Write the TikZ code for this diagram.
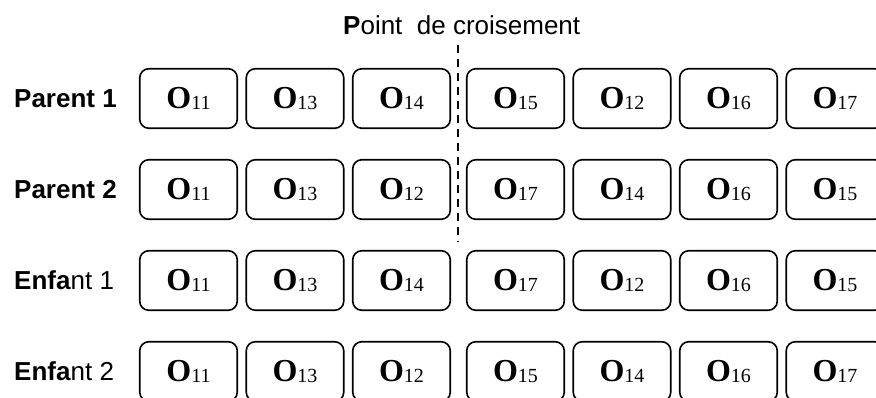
\documentclass[tikz,border=0pt]{standalone}
\usepackage{fontspec}
\setmainfont{Liberation Serif}
\setsansfont{Liberation Sans}
\usetikzlibrary{positioning}

\tikzset{
  gene/.style={draw, line width=1.6pt, rounded corners=9pt, minimum width=97.5pt,
    minimum height=59.5pt, inner sep=0pt, font=\fontsize{32}{32}\selectfont},
  rowlabel/.style={anchor=west, inner sep=0pt, font=\sffamily\fontsize{26}{26}\selectfont},
  cutline/.style={line width=1.6pt, dash pattern=on 8pt off 6pt}
}
\newcommand{\gn}[1]{\raisebox{-2.5pt}{\textbf{O}{\fontsize{20}{20}\selectfont\raisebox{-1pt}{#1}}}}

\begin{document}
\begin{tikzpicture}[x=1pt, y=1pt]
  \useasboundingbox (0,0) rectangle (876,-397);

  \node[anchor=base west, inner sep=0pt, font=\sffamily\fontsize{26}{26}\selectfont]
    (title) at (343,-34) {\textbf{P}oint~ de croisement};

  % one row per chromosome
  \foreach \row/\lab/\y/\genes in {
      p1/{\textbf{Parent 1}}/-98.5/{11,13,14,15,12,16,17},
      p2/{\textbf{Parent 2}}/-189.5/{11,13,12,17,14,16,15},
      e1/{\textbf{Enfa}nt 1}/-280.5/{11,13,14,17,12,16,15},
      e2/{\textbf{Enfa}nt 2}/-371.5/{11,13,12,15,14,16,17}} {
    \node[rowlabel] (\row-lab) at (14,\y) {\lab};
    \foreach \g [count=\i] in \genes {
      \pgfmathsetmacro\xx{188.5+106.5*(\i-1)+7.5*(\i>3)}
      \node[gene] (\row-\i) at (\xx,\y) {\gn{\g}};
    }
  }

  \coordinate (cut-top) at (458,-45);
  \coordinate (cut-bot) at (458,-242);
  \draw[cutline] (cut-top) -- (cut-bot);
\end{tikzpicture}
\end{document}
